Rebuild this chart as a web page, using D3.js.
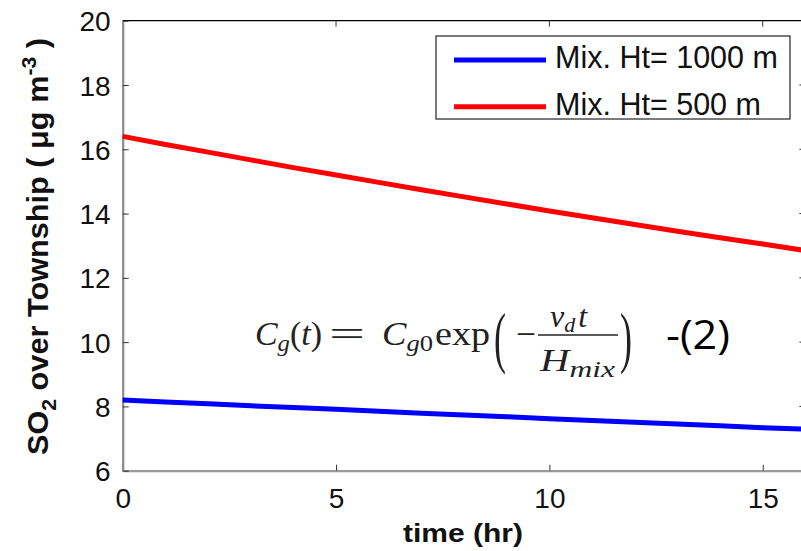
<!DOCTYPE html>
<html><head><meta charset="utf-8">
<script src="https://cdn.jsdelivr.net/npm/d3@7"></script>
<style>
html,body{margin:0;padding:0;background:#fff;overflow:hidden}
svg{display:block}
</style></head><body>
<svg id="chart" width="801" height="551"></svg>
<script>
// ---- data ----
const timeHr = [0,1,2,3,4,5,6,7,8,9,10,11,12,13,14,15,16];
const so2Mix1000 = [8.20,8.14,8.08,8.02,7.97,7.91,7.85,7.79,7.73,7.68,7.62,7.56,7.51,7.45,7.40,7.34,7.29];
const so2Mix500 = [16.40,16.15,15.91,15.67,15.43,15.20,14.97,14.74,14.52,14.30,14.08,13.87,13.66,13.45,13.25,13.05,12.85];
const seriesNames = ["Mix. Ht= 1000 m","Mix. Ht= 500 m"];
const xTicks = [0,5,10,15];
const yTicks = [6,8,10,12,14,16,18,20];

const svg = d3.select("#chart");
const L = 122.7, R = 805.4, T = 20.7, B = 470.7;
const x = d3.scaleLinear().domain([0,16]).range([L,R]);
const y = d3.scaleLinear().domain([6,20]).range([B,T]);

svg.append("rect").attr("width",801).attr("height",551).attr("fill","#fff");

// frame
svg.append("line").attr("x1",L).attr("x2",R).attr("y1",T).attr("y2",T).attr("stroke","#000").attr("stroke-width",1.2);
svg.append("line").attr("x1",R).attr("x2",R).attr("y1",T).attr("y2",B).attr("stroke","#000").attr("stroke-width",1.2);

// axes
const font = "'Liberation Sans', Arial, sans-serif";
const xAxis = svg.append("g").attr("transform",`translate(0,${B})`)
  .call(d3.axisBottom(x).tickValues(xTicks).tickSizeInner(-6).tickSizeOuter(0).tickPadding(17).tickFormat(d3.format("d")));
xAxis.select(".domain").attr("stroke","#9a9a9a").attr("stroke-width",2.2);
xAxis.selectAll(".tick line").attr("stroke","#333");
xAxis.selectAll("text").attr("font-family",font).attr("font-size",28).attr("fill","#111");

const yAxis = svg.append("g").attr("transform",`translate(${L},0)`)
  .call(d3.axisLeft(y).tickValues(yTicks).tickSizeInner(-6).tickSizeOuter(0).tickPadding(12).tickFormat(d3.format("d")));
yAxis.select(".domain").attr("stroke","#8a8a8a").attr("stroke-width",2.2);
yAxis.selectAll(".tick line").attr("stroke","#333");
yAxis.selectAll("text").attr("font-family",font).attr("font-size",28).attr("fill","#111").attr("dy","0.36em");

// top & right ticks
svg.append("g").selectAll("line").data(xTicks.filter(d=>d>0)).join("line")
  .attr("x1",d=>x(d)).attr("x2",d=>x(d)).attr("y1",T).attr("y2",T+6).attr("stroke","#333");
svg.append("g").selectAll("line").data(yTicks.filter(d=>d>6&&d<20)).join("line")
  .attr("x1",R).attr("x2",R-6).attr("y1",d=>y(d)).attr("y2",d=>y(d)).attr("stroke","#333");

// lines
const line = d3.line().x((d,i)=>x(timeHr[i])).y(d=>y(d));
svg.append("path").datum(so2Mix1000).attr("d",line).attr("fill","none").attr("stroke","#0000ff").attr("stroke-width",5);
svg.append("path").datum(so2Mix500).attr("d",line).attr("fill","none").attr("stroke","#ff0000").attr("stroke-width",5);

// axis titles
svg.append("text").attr("x",403).attr("y",542).attr("textLength",120).attr("lengthAdjust","spacingAndGlyphs")
  .attr("font-family",font).attr("font-weight","bold").attr("font-size",26).attr("fill","#111").text("time (hr)");

const yl = svg.append("text").attr("transform",`translate(48,455) rotate(-90)`)
  .attr("textLength",417).attr("lengthAdjust","spacingAndGlyphs")
  .attr("font-family",font).attr("font-weight","bold").attr("font-size",29).attr("fill","#111");
yl.append("tspan").text("SO");
yl.append("tspan").attr("dy",8).attr("font-size",20).text("2");
yl.append("tspan").attr("dy",-8).text(" over Township ( μg m");
yl.append("tspan").attr("dy",-12).attr("font-size",20).text("-3");
yl.append("tspan").attr("dy",12).text(" )");

// legend
const lg = svg.append("g");
lg.append("rect").attr("x",436).attr("y",36).attr("width",354).attr("height",83)
  .attr("fill","#fff").attr("stroke","#222").attr("stroke-width",1.2);
const lgColors = ["#0000ff","#ff0000"];
seriesNames.forEach((n,i)=>{
  const cy = 60 + i*46.7;
  lg.append("line").attr("x1",454).attr("x2",546).attr("y1",cy).attr("y2",cy).attr("stroke",lgColors[i]).attr("stroke-width",5);
  lg.append("text").attr("x",555).attr("y",cy+8).attr("font-family",font).attr("font-size",30.5).attr("fill","#111").text(n);
});

// formula annotation
const ser = "'Liberation Serif','DejaVu Serif',serif";
const fc = "#222";
const f = svg.append("g").attr("fill",fc).attr("font-family",ser);
const t1 = f.append("text").attr("x",255).attr("y",345).attr("font-size",33)
  .attr("textLength",67).attr("lengthAdjust","spacingAndGlyphs");
t1.append("tspan").attr("font-style","italic").text("C");
t1.append("tspan").attr("font-style","italic").attr("font-size",24).attr("dy",6).text("g");
t1.append("tspan").attr("dy",-6).text("(");
t1.append("tspan").attr("font-style","italic").text("t");
t1.append("tspan").text(")");
f.append("text").attr("x",329).attr("y",346).attr("font-size",36)
  .attr("textLength",36).attr("lengthAdjust","spacingAndGlyphs").text("=");
const t3 = f.append("text").attr("x",382).attr("y",345).attr("font-size",33)
  .attr("textLength",51).attr("lengthAdjust","spacingAndGlyphs");
t3.append("tspan").attr("font-style","italic").text("C");
t3.append("tspan").attr("font-size",24).attr("dy",6).attr("font-style","italic").text("g");
t3.append("tspan").attr("font-size",24).text("0");
f.append("text").attr("x",435).attr("y",345).attr("font-size",33)
  .attr("textLength",55).attr("lengthAdjust","spacingAndGlyphs").text("exp");
f.append("text").attr("transform","translate(494,360) scale(1,1.9)").attr("font-size",36).text("(");
f.append("text").attr("x",516).attr("y",345).attr("font-size",33)
  .attr("textLength",20).attr("lengthAdjust","spacingAndGlyphs").text("−");
const num = f.append("text").attr("x",550).attr("y",327).attr("font-size",32);
num.append("tspan").attr("font-style","italic").text("v");
num.append("tspan").attr("font-style","italic").attr("font-size",22).attr("dy",5).text("d");
num.append("tspan").attr("font-style","italic").attr("dy",-5).attr("dx",3).text("t");
f.append("line").attr("x1",538).attr("x2",618).attr("y1",335).attr("y2",335).attr("stroke",fc).attr("stroke-width",1.5);
const den = f.append("text").attr("x",540).attr("y",371).attr("font-size",31)
  .attr("textLength",75).attr("lengthAdjust","spacingAndGlyphs");
den.append("tspan").attr("font-style","italic").text("H");
den.append("tspan").attr("font-style","italic").attr("font-size",24).attr("dy",6).text("mix");
f.append("text").attr("transform","translate(620,360) scale(1,1.9)").attr("font-size",36).text(")");

svg.append("text").attr("x",666).attr("y",349).attr("font-family","'Open Sans','Noto Sans',sans-serif")
  .attr("textLength",64).attr("lengthAdjust","spacingAndGlyphs")
  .attr("font-size",40).attr("fill","#000").text("-(2)");
</script>
</body></html>
